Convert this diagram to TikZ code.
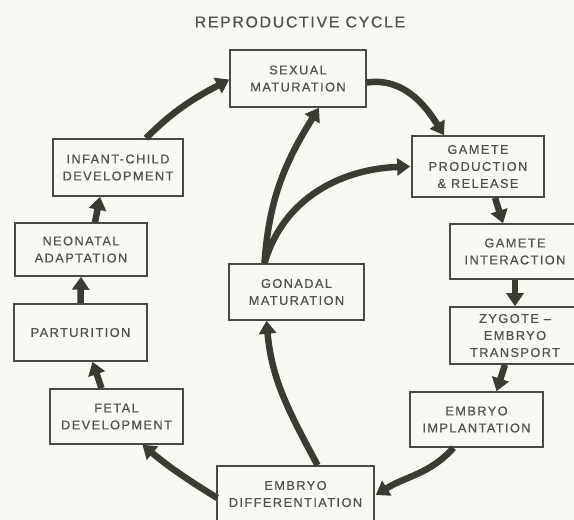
\documentclass[tikz,border=0pt]{standalone}
\usepackage{fontspec}
\setmainfont{Liberation Sans}
\newfontfamily\boxfont[LetterSpace=11,FakeBold=0.6]{Liberation Sans}
\usetikzlibrary{arrows.meta}
\definecolor{paper}{HTML}{F9F8F3}
\definecolor{ink}{HTML}{3B3B34}
\definecolor{frame}{HTML}{4A4A45}
\definecolor{label}{HTML}{52524C}
\begin{document}
\begin{tikzpicture}[x=1pt,y=1pt,
  stage/.style={draw=frame, line width=1.6pt, fill=paper, inner sep=0pt,
    align=center, text=label, font=\boxfont\fontsize{12.8}{17}\selectfont},
  flow/.style={draw=ink, line width=6.5pt,
    -{Triangle[length=13pt,width=17pt]}, color=ink}]
\clip (0,0) rectangle (574,520);
\fill[paper] (0,0) rectangle (574,520);

% title
\node[text=label, font=\boxfont\fontsize{15.8}{18}\selectfont] (title) at (300,498) {REPRODUCTIVE CYCLE};

% stages of the cycle
\node[stage, minimum width=136pt, minimum height=57pt] (sm) at (298,441.5) {SEXUAL\\MATURATION};
\node[stage, minimum width=132pt, minimum height=61pt] (gp) at (478,353.5) {GAMETE\\PRODUCTION\\\& RELEASE};
\node[stage, minimum width=130pt, minimum height=57pt] (ic) at (118,352.5) {INFANT-CHILD\\DEVELOPMENT};
\node[stage, minimum width=132pt, minimum height=53pt] (na) at (81,270.5) {NEONATAL\\ADAPTATION};
\node[stage, minimum width=130pt, minimum height=55pt] (gi) at (515,268.5) {GAMETE\\INTERACTION};
\node[stage, minimum width=130pt, minimum height=57pt] (ze) at (515,184.5) {ZYGOTE –\\EMBRYO\\TRANSPORT};
\node[stage, minimum width=133pt, minimum height=57pt] (pa) at (80.5,187.5) {PARTURITION};
\node[stage, minimum width=133pt, minimum height=55pt] (fd) at (116.5,103.5) {FETAL\\DEVELOPMENT};
\node[stage, minimum width=135pt, minimum height=56pt] (gm) at (296.5,228) {GONADAL\\MATURATION};
\node[stage, minimum width=157pt, minimum height=56pt] (ed) at (295.5,26) {EMBRYO\\DIFFERENTIATION};
\node[stage, minimum width=133pt, minimum height=55pt] (ei) at (476.5,100.5) {EMBRYO\\IMPLANTATION};

% connectors
\draw[flow] ([xshift=28pt]ic.north) to[out=45,in=208] ([yshift=-1pt]sm.west);
\draw[flow] ([yshift=-4pt]sm.east) to[out=8,in=122] ([xshift=-34pt]gp.north);
\draw[flow] ([xshift=17pt]gp.south) -- ([xshift=-12pt]gi.north);
\draw[flow] (gi.south) -- (ze.north);
\draw[flow] ([xshift=-10pt]ze.south) -- ([xshift=20pt]ei.north);
\draw[flow] ([xshift=-23pt]ei.south) to[out=228,in=32] ([xshift=1pt,yshift=-1pt]ed.east);
\draw[flow] ([xshift=1pt,yshift=-4pt]ed.west) to[out=148,in=-40] ([xshift=26pt]fd.south);
\draw[flow] ([xshift=-15pt]fd.north) -- ([xshift=12pt]pa.south);
\draw[flow] (pa.north) -- (na.north |- na.south);
\draw[flow] ([xshift=14pt]na.north) -- ([xshift=-18pt]ic.south);
\draw[flow] ([xshift=22pt]ed.north) to[out=118,in=-85] ([xshift=-30pt]gm.south);
\draw[flow] ([xshift=-32pt]gm.north) to[out=86,in=238] ([xshift=21pt]sm.south);
\draw[flow] ([xshift=-32pt]gm.north) to[out=74,in=182] ([xshift=-1pt]gp.west);
\end{tikzpicture}
\end{document}
